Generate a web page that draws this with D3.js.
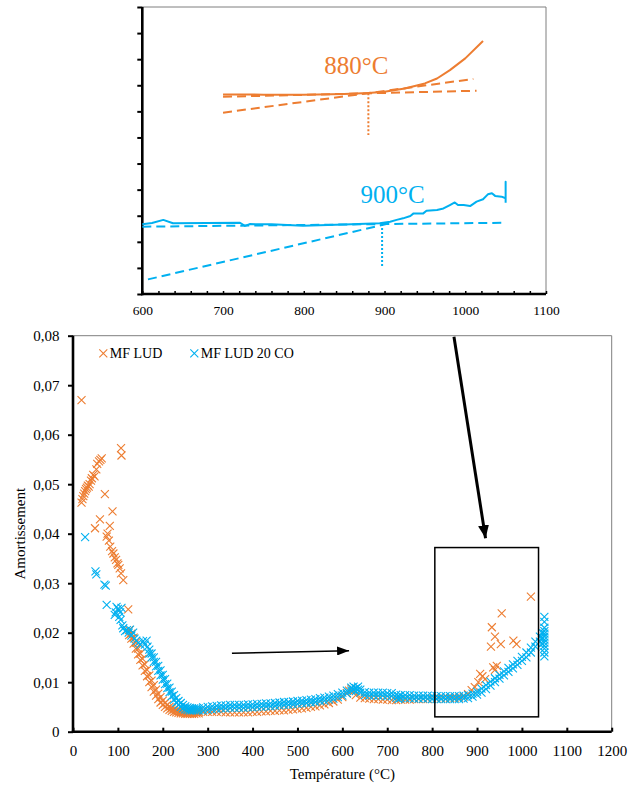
<!DOCTYPE html>
<html><head><meta charset="utf-8">
<script src="https://cdn.jsdelivr.net/npm/d3@7"></script>
<style>
html,body{margin:0;padding:0;background:#fff;}
svg{display:block;}
svg text{font-family:"Liberation Serif","Times New Roman",serif !important;}
</style></head><body>
<svg id="c" width="629" height="787"></svg>
<script>
// ===================== DATA =====================
const seriesNames = ["MF LUD", "MF LUD 20 CO"];
const seriesColors = ["#ED7D31", "#00B0F0"];
const xTicks = [0,100,200,300,400,500,600,700,800,900,1000,1100,1200];
const yTicks = [0,0.01,0.02,0.03,0.04,0.05,0.06,0.07,0.08];
const xTitle = "Température (°C)";
const yTitle = "Amortissement";

// MF LUD (orange) [temperature, damping]
const mfLud = [
 [19,0.0670],[19,0.0463],[21,0.0470],[23,0.0476],[25,0.0481],[27,0.0486],[29,0.0490],[31,0.0493],[33,0.0497],[35,0.0495],
 [37,0.0500],[40,0.0507],[42,0.0512],[45,0.0519],[48,0.0516],[52,0.0530],[54,0.0541],[58,0.0546],[61,0.0549],[64,0.0552],
 [107,0.0573],[108,0.0558],[71,0.0480],[88,0.0445],[60,0.0429],[49,0.0411],[82,0.0416],[77,0.0400],[75,0.0394],[80,0.0386],
 [83,0.0374],[87,0.0365],[90,0.0360],[93,0.0352],[96,0.0347],[99,0.0340],[101,0.0337],[104,0.0330],[107,0.0320],[112,0.0306],
 [123,0.0247],
 [125,0.0205],[125,0.0195],[130,0.0198],[130,0.0188],[135,0.0190],[135,0.0178],[140,0.0180],[140,0.0168],[145,0.0168],[145,0.0156],
 [150,0.0158],[150,0.0145],[155,0.0147],[155,0.0134],[160,0.0136],[160,0.0123],[165,0.0125],[165,0.0112],[170,0.0114],[170,0.0100],
 [175,0.0103],[175,0.0090],[180,0.0094],[180,0.0081],[185,0.0085],[185,0.0073],[190,0.0077],[190,0.0066],[195,0.0070],[195,0.0059],
 [200,0.0063],[200,0.0054],[205,0.0058],[205,0.0050],[210,0.0054],[210,0.0047],[215,0.0050],[215,0.0044],[220,0.0047],[220,0.0042],
 [225,0.0045],[225,0.0040],[230,0.0043],[230,0.0039],[235,0.0042],[235,0.0038],[240,0.0041],[240,0.0037],[245,0.0040],[245,0.0037],
 [250,0.0040],[250,0.0036],[255,0.0039],[255,0.0036],[260,0.0039],[260,0.0036],[265,0.0039],[265,0.0036],[270,0.0039],[270,0.0036],
 [275,0.0040],[275,0.0037],[280,0.0040],[280,0.0037],
 [290,0.0040],[300,0.0040],[310,0.0040],[320,0.0040],[330,0.0040],[340,0.0039],[350,0.0039],[360,0.0039],[370,0.0039],[380,0.0039],
 [390,0.0039],[400,0.0040],[410,0.0040],[420,0.0041],[430,0.0041],[440,0.0042],[450,0.0042],[460,0.0043],[470,0.0043],[480,0.0044],
 [490,0.0045],[500,0.0046],[510,0.0047],[520,0.0048],[530,0.0050],[540,0.0051],[550,0.0053],[560,0.0055],[570,0.0058],[580,0.0061],
 [590,0.0065],[600,0.0070],[610,0.0078],[615,0.0083],[620,0.0087],[625,0.0082],[630,0.0074],[640,0.0069],[650,0.0068],[660,0.0067],
 [670,0.0066],[680,0.0066],[690,0.0065],[700,0.0065],[710,0.0064],[720,0.0064],[730,0.0065],[740,0.0065],[750,0.0065],[760,0.0066],
 [770,0.0066],[780,0.0066],[790,0.0066],[800,0.0067],[810,0.0067],[820,0.0067],[830,0.0067],[840,0.0068],[850,0.0068],[860,0.0069],
 [870,0.0071],[880,0.0076],
 [888,0.0084],[895,0.0090],[903,0.0100],[907,0.0117],[912,0.0112],[918,0.0106],[936,0.0130],[940,0.0125],[944,0.0133],[931,0.0172],
 [933,0.0211],[940,0.0192],[953,0.0177],[955,0.0239],[981,0.0184],[988,0.0177],[1020,0.0273]
];

// MF LUD 20 CO (blue) [temperature, damping]
const mfLud20 = [
 [27,0.0393],[50,0.0324],[52,0.0318],[70,0.0297],[73,0.0295],[75,0.0256],[93,0.0236],[95,0.0241],[97,0.0252],[100,0.0248],
 [103,0.0232],[105,0.0241],[108,0.0250],[106,0.0226],[110,0.0215],[112,0.0209],[116,0.0203],[120,0.0205],[124,0.0200],[127,0.0206],
 [130,0.0194],[134,0.0200],[137,0.0188],[141,0.0184],[146,0.0180],[150,0.0176],[156,0.0183],[160,0.0176],[164,0.0184],[166,0.0172],
 [170,0.0166],[170,0.0158],[175,0.0158],[175,0.0150],[180,0.0150],[180,0.0141],[185,0.0141],[185,0.0132],[190,0.0133],[190,0.0123],
 [195,0.0124],[195,0.0114],[200,0.0115],[200,0.0105],[205,0.0106],[205,0.0096],[210,0.0097],[210,0.0088],[215,0.0089],[215,0.0080],
 [220,0.0081],[220,0.0072],[225,0.0074],[225,0.0065],[230,0.0068],[230,0.0059],[235,0.0062],[235,0.0054],[240,0.0058],[240,0.0050],
 [245,0.0054],[245,0.0047],[250,0.0051],[250,0.0045],[255,0.0049],[255,0.0044],[260,0.0048],[260,0.0043],[265,0.0047],[265,0.0043],
 [270,0.0047],[270,0.0043],[275,0.0047],[275,0.0043],[280,0.0047],[280,0.0043],
 [290,0.0043],[290,0.0049],[300,0.0044],[300,0.0050],[310,0.0045],[310,0.0051],[320,0.0046],[320,0.0052],[330,0.0047],[330,0.0053],
 [340,0.0047],[340,0.0053],[350,0.0048],[350,0.0054],[360,0.0048],[360,0.0054],[370,0.0048],[370,0.0054],[380,0.0048],[380,0.0054],
 [390,0.0049],[390,0.0055],[400,0.0049],[400,0.0055],[410,0.0050],[410,0.0056],[420,0.0050],[420,0.0056],[430,0.0051],[430,0.0057],
 [440,0.0051],[440,0.0057],[450,0.0052],[450,0.0058],[460,0.0053],[460,0.0059],[470,0.0054],[470,0.0060],[480,0.0054],[480,0.0060],
 [490,0.0055],[490,0.0061],[500,0.0056],[500,0.0062],[510,0.0057],[510,0.0063],[520,0.0058],[520,0.0064],[530,0.0059],[530,0.0065],
 [540,0.0060],[540,0.0066],[550,0.0062],[550,0.0068],[560,0.0063],[560,0.0069],[570,0.0065],[570,0.0071],[580,0.0067],[580,0.0073],
 [590,0.0070],[590,0.0076],[600,0.0073],[600,0.0079],[610,0.0077],[610,0.0083],[620,0.0083],[620,0.0089],[625,0.0085],[625,0.0091],
 [630,0.0082],[630,0.0088],[635,0.0085],[635,0.0091],[640,0.0079],[640,0.0085],[650,0.0074],[650,0.0080],[660,0.0073],[660,0.0079],
 [670,0.0073],[670,0.0079],[680,0.0073],[680,0.0079],[690,0.0073],[690,0.0079],[700,0.0072],[700,0.0078],[710,0.0072],[710,0.0078],
 [720,0.0069],[720,0.0075],[725,0.0066],[725,0.0072],[730,0.0068],[730,0.0074],[740,0.0068],[740,0.0074],[750,0.0068],[750,0.0074],
 [760,0.0067],[760,0.0073],[770,0.0067],[770,0.0073],[780,0.0067],[780,0.0073],[790,0.0067],[790,0.0073],[800,0.0066],[800,0.0072],
 [810,0.0066],[810,0.0072],[820,0.0066],[820,0.0072],[830,0.0066],[830,0.0072],[840,0.0066],[840,0.0072],[850,0.0066],[850,0.0072],
 [860,0.0066],[860,0.0072],[870,0.0067],[870,0.0073],[880,0.0068],[880,0.0074],[890,0.0071],[890,0.0077],[900,0.0075],[900,0.0081],
 [910,0.0079],[910,0.0087],[920,0.0086],[920,0.0094],[930,0.0093],[930,0.0101],[940,0.0100],[940,0.0108],[950,0.0107],[950,0.0115],
 [960,0.0114],[960,0.0122],[970,0.0121],[970,0.0129],[980,0.0128],[980,0.0136],[990,0.0135],[990,0.0143],[1000,0.0143],[1000,0.0151],
 [1010,0.0150],[1010,0.0160],[1020,0.0160],[1020,0.0170],[1030,0.0172],[1030,0.0182],[1040,0.0182],[1040,0.0192],
 [1045,0.0178],[1045,0.0190],[1045,0.0200],
 [1050,0.0152],[1050,0.0160],[1050,0.0168],[1050,0.0174],[1050,0.0180],[1050,0.0186],[1050,0.0192],[1050,0.0198],[1050,0.0203],
 [1050,0.0210],[1050,0.0222],[1050,0.0232]
];

// annotations on the main chart (data coordinates)
const zoomBox = {t0: 806, t1: 1037, v0: 0.0030, v1: 0.0372};
const thinArrow = [[354, 0.01584], [615, 0.01636]];
const thickArrow = [[848.6, 0.0798], [919, 0.0391]];

// ===== inset (zoom of 600-1100 °C, arbitrary units) =====
const insetXTicks = [600,700,800,900,1000,1100];
const insetYTicks = [0,1,2,3,4,5,6,7,8,9,10,11];
const insetLud = [[700,7.65],[750,7.64],[800,7.64],[850,7.67],[880,7.70],[900,7.75],[925,7.88],[950,8.07],[965,8.26],[981,8.58],[1000,9.03],[1022,9.70]];
const insetLudTangents = [[[700,7.56],[1014,7.79]], [[700,6.95],[1010,8.24]]];
const insetLudOnset = [[880,7.69],[880,6.09]];
const insetLudLabel = {t: 865, v: 8.45, text: "880°C"};
const insetLud20 = [[600,2.67],[612,2.72],[626,2.84],[638,2.71],[680,2.72],[721,2.73],[727,2.61],[733,2.68],[760,2.67],[799,2.62],[850,2.66],
 [894,2.71],[907,2.77],[915,2.84],[923,2.90],[932,2.99],[936,3.09],[948,3.09],[952,3.19],[965,3.22],[973,3.28],[981,3.41],[987,3.51],
 [991,3.41],[998,3.41],[1006,3.37],[1014,3.54],[1022,3.63],[1028,3.82],[1033,3.86],[1037,3.76],[1045,3.73],[1050,3.67],[1050,4.30],[1050,3.50]];
const insetLud20Tangents = [[[600,2.58],[1050,2.73]], [[607,0.56],[905,2.70]]];
const insetLud20Onset = [[897,2.68],[897,1.05]];
const insetLud20Label = {t: 910, v: 3.50, text: "900°C"};

// ===================== DRAW =====================
const FONT = '"Liberation Serif","Times New Roman",serif';
const svg = d3.select("#c");
svg.append("rect").attr("width",629).attr("height",787).attr("fill","#fff");

// ---------- main chart ----------
const L = 73, R = 611.7, T = 335.7, B = 731.7;
const x = d3.scaleLinear([0,1200],[L,R]);
const y = d3.scaleLinear([0,0.08],[B,T]);

svg.append("path").attr("d",`M${L},${T}H${R}V${B}`).attr("fill","none").attr("stroke","#7f7f7f").attr("stroke-width",1);

const fmt = d => d === 0 ? "0" : d3.format(".2f")(d).replace(".", ",");
const gy = svg.append("g").attr("transform",`translate(${L},0)`)
  .call(d3.axisLeft(y).tickValues(yTicks).tickFormat(fmt).tickSize(5).tickSizeOuter(0).tickPadding(8.5));
gy.style("font-family", FONT);
gy.select(".domain").remove();
gy.selectAll(".tick line").attr("stroke","#000").attr("stroke-width",2);
gy.selectAll("text").style("font-family", FONT).attr("font-size",15).attr("fill","#000");

const gx = svg.append("g").attr("transform",`translate(0,${B})`)
  .call(d3.axisBottom(x).tickValues(xTicks).tickFormat(d3.format("d")).tickSize(-4).tickSizeOuter(0).tickPadding(14));
gx.style("font-family", FONT);
gx.select(".domain").remove();
gx.selectAll(".tick line").attr("stroke","#000").attr("stroke-width",2);
gx.selectAll("text").style("font-family", FONT).attr("font-size",15).attr("fill","#000");

svg.append("line").attr("x1",L).attr("x2",L).attr("y1",T).attr("y2",B+1.2).attr("stroke","#000").attr("stroke-width",2.6);
svg.append("line").attr("x1",L-1.2).attr("x2",R).attr("y1",B).attr("y2",B).attr("stroke","#000").attr("stroke-width",2.6);

svg.append("text").attr("x",(L+R)/2).attr("y",779).attr("text-anchor","middle").attr("font-size",15).text(xTitle);
svg.append("text").attr("transform",`translate(24.5,${(T+B)/2}) rotate(-90)`).attr("text-anchor","middle").attr("font-size",15).text(yTitle);

const cross = "M-4,-4L4,4M-4,4L4,-4";
[mfLud, mfLud20].forEach((data, i) => {
  svg.append("g").selectAll("path").data(data).join("path")
    .attr("transform", d => `translate(${x(d[0])},${y(d[1])})`)
    .attr("d", cross).attr("fill","none").attr("stroke", seriesColors[i]).attr("stroke-width",1.1);
});

const legX = [103.3, 194.3];
seriesNames.forEach((n, i) => {
  svg.append("path").attr("transform",`translate(${legX[i]},353.3)`).attr("d",cross)
    .attr("fill","none").attr("stroke",seriesColors[i]).attr("stroke-width",1.1);
  svg.append("text").attr("x",legX[i]+6.5).attr("y",358).attr("font-size",14).text(n);
});

const defs = svg.append("defs");
defs.append("marker").attr("id","ah1").attr("markerUnits","userSpaceOnUse")
  .attr("markerWidth",12).attr("markerHeight",9).attr("refX",12).attr("refY",4.5).attr("orient","auto")
  .append("path").attr("d","M0,0L12,4.5L0,9Z").attr("fill","#000");
defs.append("marker").attr("id","ah2").attr("markerUnits","userSpaceOnUse")
  .attr("markerWidth",13).attr("markerHeight",11).attr("refX",13).attr("refY",5.5).attr("orient","auto")
  .append("path").attr("d","M0,0L13,5.5L0,11Z").attr("fill","#000");

svg.append("rect").attr("x",x(zoomBox.t0)).attr("y",y(zoomBox.v1))
  .attr("width",x(zoomBox.t1)-x(zoomBox.t0)).attr("height",y(zoomBox.v0)-y(zoomBox.v1))
  .attr("fill","none").attr("stroke","#000").attr("stroke-width",1.5);
svg.append("line").attr("x1",x(thinArrow[0][0])).attr("y1",y(thinArrow[0][1]))
  .attr("x2",x(thinArrow[1][0])).attr("y2",y(thinArrow[1][1]))
  .attr("stroke","#000").attr("stroke-width",1.4).attr("marker-end","url(#ah1)");
svg.append("line").attr("x1",x(thickArrow[0][0])).attr("y1",y(thickArrow[0][1]))
  .attr("x2",x(thickArrow[1][0])).attr("y2",y(thickArrow[1][1]))
  .attr("stroke","#000").attr("stroke-width",3).attr("marker-end","url(#ah2)");

// ---------- inset ----------
const iL = 142.3, iR = 546, iT = 7, iB = 294;
const xi = d3.scaleLinear([600,1100],[iL,iR]);
const yi = d3.scaleLinear([0,11],[iB,iT]);
svg.append("path").attr("d",`M${iL},${iT}H${iR}V${iB}`).attr("fill","none").attr("stroke","#7f7f7f").attr("stroke-width",1);

const giy = svg.append("g").attr("transform",`translate(${iL},0)`)
  .call(d3.axisLeft(yi).tickValues(insetYTicks).tickFormat("").tickSize(5).tickSizeOuter(0));
giy.select(".domain").remove();
giy.selectAll(".tick line").attr("stroke","#000").attr("stroke-width",2);

const gix = svg.append("g").attr("transform",`translate(0,${iB})`)
  .call(d3.axisBottom(xi).tickValues(d3.range(600,1101,20))
    .tickFormat(d => insetXTicks.includes(d) ? d : "").tickSize(-3).tickSizeOuter(0).tickPadding(11.5));
gix.style("font-family", FONT);
gix.select(".domain").remove();
gix.selectAll(".tick line").attr("stroke","#000").attr("stroke-width",1.5);
gix.selectAll("text").style("font-family", FONT).attr("font-size",13.5).attr("fill","#000");

svg.append("line").attr("x1",iL).attr("x2",iL).attr("y1",iT).attr("y2",iB+1.2).attr("stroke","#000").attr("stroke-width",2.6);
svg.append("line").attr("x1",iL-1.2).attr("x2",iR).attr("y1",iB).attr("y2",iB).attr("stroke","#000").attr("stroke-width",2.6);

const line = d3.line().x(d => xi(d[0])).y(d => yi(d[1]));
function insetGroup(curve, tangents, onset, label, color) {
  tangents.forEach(t => svg.append("path").attr("d", line(t)).attr("fill","none")
    .attr("stroke",color).attr("stroke-width",2).attr("stroke-dasharray","9,5"));
  svg.append("path").attr("d", line(onset)).attr("fill","none")
    .attr("stroke",color).attr("stroke-width",2).attr("stroke-dasharray","2,2");
  svg.append("path").attr("d", line(curve)).attr("fill","none")
    .attr("stroke",color).attr("stroke-width",2).attr("stroke-linejoin","round");
  svg.append("text").attr("x", xi(label.t)).attr("y", yi(label.v)).attr("text-anchor","middle")
    .attr("font-size",25).attr("fill",color).text(label.text);
}
insetGroup(insetLud, insetLudTangents, insetLudOnset, insetLudLabel, seriesColors[0]);
insetGroup(insetLud20, insetLud20Tangents, insetLud20Onset, insetLud20Label, seriesColors[1]);
</script>
</body></html>
